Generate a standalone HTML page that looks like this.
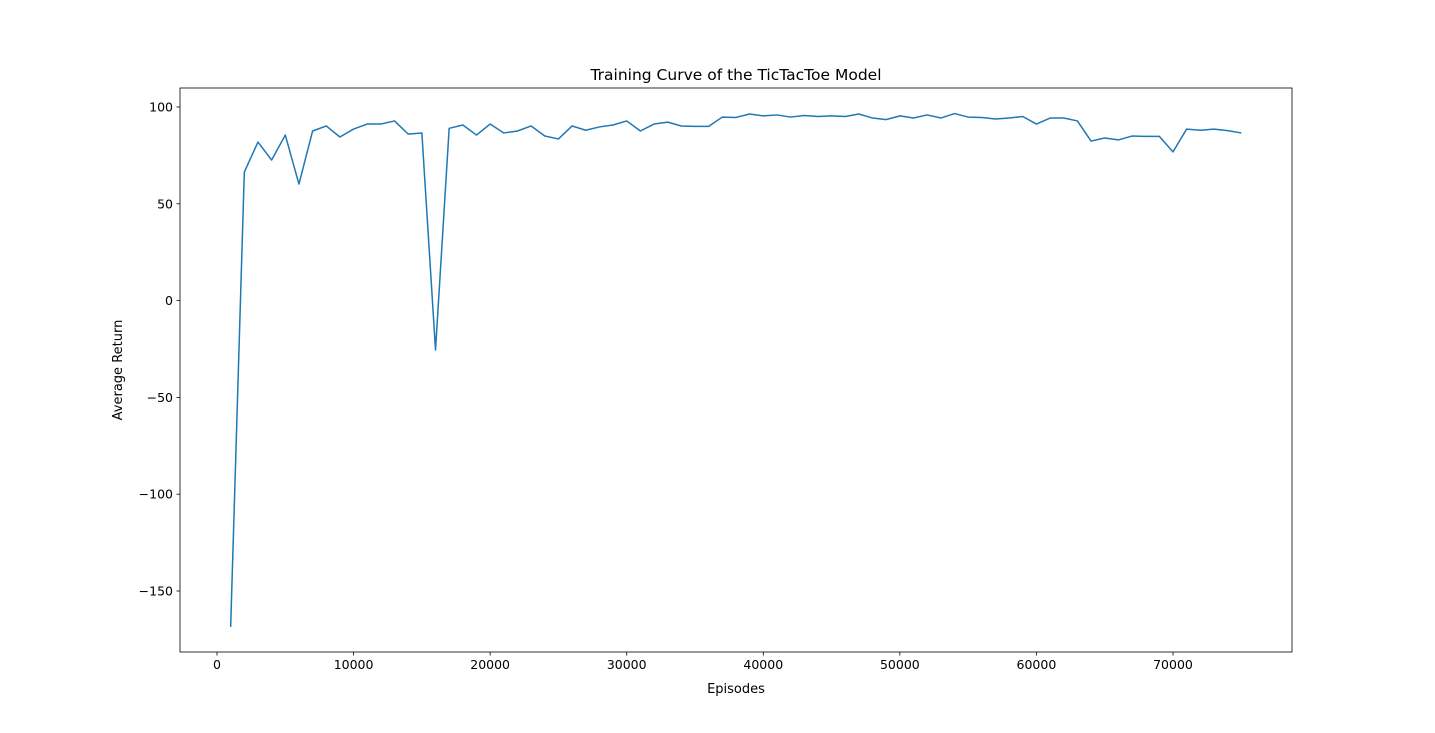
<!DOCTYPE html>
<html><head><meta charset="utf-8"><style>
html,body{margin:0;padding:0;background:#fff;}
svg{display:block;font-family:"DejaVu Sans","Liberation Sans",sans-serif;}
</style></head><body>
<svg id="chart" width="1435" height="733">
<rect width="1435" height="733" fill="#fff"/>
<g id="plot"></g>
</svg>
<script>
const episodes = [];
for (let e = 1000; e <= 75000; e += 1000) episodes.push(e);
const returns = [-168.6,66.4,81.9,72.6,85.5,60.2,87.6,90.2,84.5,88.6,91.2,91.2,92.8,86,86.6,-25.5,89,90.7,85.5,91.2,86.6,87.6,90.2,85,83.5,90.2,88,89.7,90.7,92.8,87.6,91.2,92.2,90.2,90,90,94.8,94.6,96.4,95.4,95.9,94.8,95.6,95.1,95.4,95.1,96.4,94.3,93.5,95.4,94.3,95.9,94.3,96.6,94.8,94.6,93.8,94.3,95.1,91.2,94.3,94.3,92.8,82.4,84,83,85,84.8,84.8,76.8,88.6,88,88.6,87.8,86.6];
const xTicks = [0,10000,20000,30000,40000,50000,60000,70000];
const yTicks = [-150,-100,-50,0,50,100];

const L=180,R=1292,T=88,B=652;
const sx = v => 217 + (v/70000)*(1173-217);
const sy = v => 107 + (100-v)*(591-107)/250;
const NS='http://www.w3.org/2000/svg';
const g=document.getElementById('plot');
function mk(tag,attrs,parent){const e=document.createElementNS(NS,tag);for(const k in attrs)e.setAttribute(k,attrs[k]);(parent||g).appendChild(e);return e;}

const line=mk('polyline',{points:episodes.map((e,i)=>sx(e)+','+sy(returns[i])).join(' '),fill:'none',stroke:'#1f77b4','stroke-width':1.5,'stroke-linejoin':'round'});



const frame=mk('rect',{x:L,y:T,width:R-L,height:B-T,fill:'none',stroke:'#000','stroke-width':0.8});



xTicks.forEach(t=>{
  const x=sx(t);
  const tk=mk('line',{x1:x,x2:x,y1:B,y2:B+3.5,stroke:'#000','stroke-width':0.8});
  
  
  const lb=mk('text',{x:x,y:B+17,'text-anchor':'middle','font-size':12.5});
  lb.textContent=t;
  
  
});
yTicks.forEach(t=>{
  const y=sy(t);
  const tk=mk('line',{x1:L-3.5,x2:L,y1:y,y2:y,stroke:'#000','stroke-width':0.8});
  
  
  const lb=mk('text',{x:L-7,y:y+4.5,'text-anchor':'end','font-size':12.5});
  lb.textContent=t<0?'\u2212'+(-t):String(t);
  
  
});
const xt=mk('text',{x:(L+R)/2,y:693,'text-anchor':'middle','font-size':13});
xt.textContent='Episodes';


const yt=mk('text',{x:0,y:0,'text-anchor':'middle','font-size':13,transform:'translate(122,370) rotate(-90)'});
yt.textContent='Average Return';


const ti=mk('text',{x:(L+R)/2,y:80,'text-anchor':'middle','font-size':15.5});
ti.textContent='Training Curve of the TicTacToe Model';


</script>
</body></html>
